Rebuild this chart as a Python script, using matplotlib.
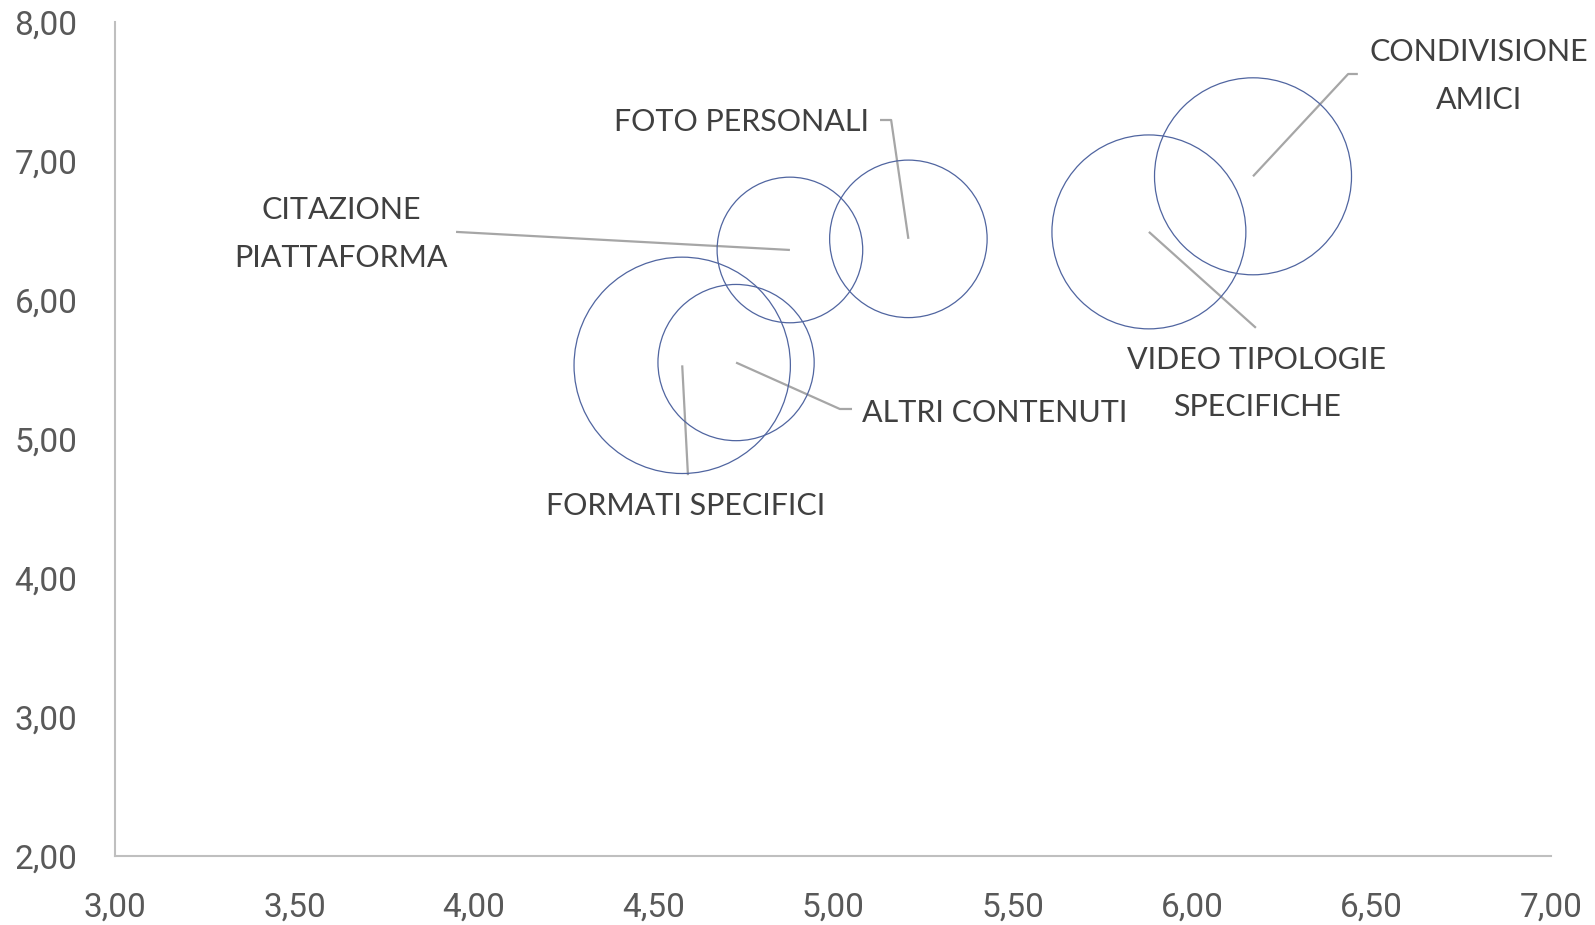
import matplotlib
matplotlib.use('Agg')
import matplotlib.pyplot as plt
from matplotlib.ticker import FuncFormatter

# dati delle bolle
categorie = ['CONDIVISIONE\nAMICI', 'VIDEO TIPOLOGIE\nSPECIFICHE', 'FOTO PERSONALI',
             'CITAZIONE\nPIATTAFORMA', 'FORMATI SPECIFICI', 'ALTRI CONTENUTI']
valori_x = [6.17, 5.88, 5.21, 4.88, 4.58, 4.73]
valori_y = [6.89, 6.49, 6.44, 6.36, 5.53, 5.55]
dimensione = [9.7, 9.4, 6.2, 5.3, 11.7, 6.1]

# posizione etichette (dati) e punti di gomito delle linee guida
etichetta_x = [6.80, 6.18, 5.10, 3.63, 4.59, 5.08]
etichetta_y = [7.61, 5.40, 7.28, 6.475, 4.52, 5.19]
gomito = [[(6.435, 7.626), (6.462, 7.626)],
          [(6.178, 5.80)],
          [(5.162, 7.295), (5.131, 7.295)],
          [(3.95, 6.49)],
          [(4.596, 4.74)],
          [(5.019, 5.216), (5.053, 5.216)]]
allineamento = ['center', 'center', 'right', 'center', 'center', 'left']

fig = plt.figure(figsize=(15.95, 9.25), dpi=100)
ax = fig.add_axes([0.0721, 0.0746, 0.9003, 0.9016])

ax.scatter(valori_x, valori_y, s=[d * 2074 for d in dimensione],
           facecolors='none', edgecolors='#5065A0', linewidths=0.9, zorder=3)

for i in range(len(categorie)):
    pts = [(valori_x[i], valori_y[i])] + gomito[i]
    ax.plot([p[0] for p in pts], [p[1] for p in pts], color='#A6A6A6', lw=1.6,
            zorder=2, solid_capstyle='butt')
    ax.text(etichetta_x[i], etichetta_y[i], categorie[i], ha=allineamento[i],
            va='center', fontsize=22, family='Lato', color='#404040',
            multialignment='center', linespacing=1.85)

ax.set_xlim(3, 7)
ax.set_ylim(2, 8)
ax.set_xticks([3, 3.5, 4, 4.5, 5, 5.5, 6, 6.5, 7])
ax.set_yticks([2, 3, 4, 5, 6, 7, 8])
fmt = FuncFormatter(lambda v, p: f'{v:.2f}'.replace('.', ','))
ax.xaxis.set_major_formatter(fmt)
ax.yaxis.set_major_formatter(fmt)
ax.tick_params(length=0, labelsize=24, labelcolor='#595959')
ax.tick_params(axis='x', pad=26)
ax.tick_params(axis='y', pad=27)
for lab in ax.get_xticklabels() + ax.get_yticklabels():
    lab.set_family('Roboto')

for s in ['top', 'right']:
    ax.spines[s].set_visible(False)
for s in ['left', 'bottom']:
    ax.spines[s].set_color('#BFBFBF')
    ax.spines[s].set_linewidth(1.5)

fig.savefig('out.png', dpi=100)
